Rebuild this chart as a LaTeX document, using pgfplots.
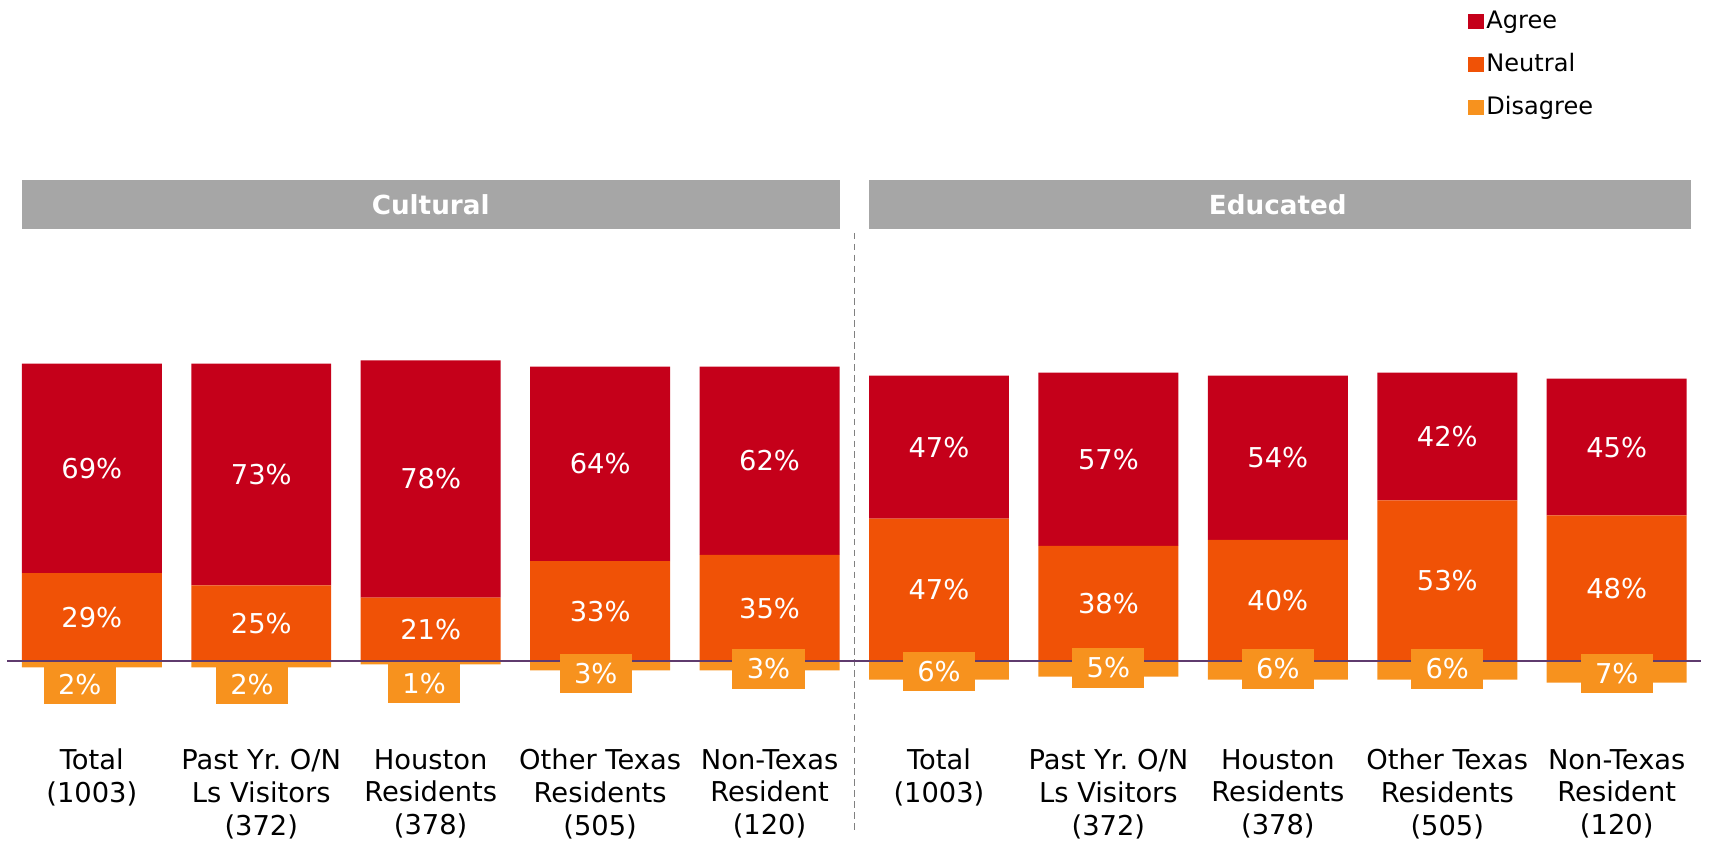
\documentclass[border=0pt]{standalone}
\usepackage{fontspec}
\setmainfont{DejaVu Sans}
\usepackage{pgfplots}
\pgfplotsset{compat=1.18}
\frenchspacing
\definecolor{agree}{HTML}{C5001A}
\definecolor{neutral}{HTML}{F05206}
\definecolor{disagree}{HTML}{F7921E}
\definecolor{hdr}{HTML}{A6A6A6}
\definecolor{basecol}{HTML}{5F3B6E}
\pgfplotsset{
  myaxis/.style={scale only axis, width=784pt, height=384.5pt,
    xmin=-0.541935, xmax=9.574194, ymin=-58.99, ymax=217.63,
    axis line style={draw=none}, xtick=\empty, ytick=\empty,
    major tick length=0pt, clip=false, at={(0,0)}, anchor=south west},
  sq/.style={legend image code/.code={\fill[##1] (0pt,-3.5pt) rectangle (7pt,3.5pt);}},
  lbl/.style={only marks, mark=*, mark size=0pt, draw=none, mark options={draw=none,fill=none},
    nodes near coords, point meta=explicit symbolic},
}
\begin{document}
\begin{tikzpicture}
\useasboundingbox (0,0) rectangle (784pt,384.5pt);
% disagree bars (below zero)
\begin{axis}[myaxis, ybar, bar width=0.826, bar shift=0pt]
\addplot[fill=disagree, draw=none] coordinates {(0,-2)(1,-2)(2,-1)(3,-3)(4,-3)(5,-6)(6,-5)(7,-6)(8,-6)(9,-7)};
\end{axis}
% neutral and agree bars, stacked from zero
\begin{axis}[myaxis, ybar stacked, bar width=0.826]
\addplot[fill=neutral, draw=none] coordinates {(0,29)(1,25)(2,21)(3,33)(4,35)(5,47)(6,38)(7,40)(8,53)(9,48)};
\addplot[fill=agree, draw=none] coordinates {(0,69)(1,73)(2,78)(3,64)(4,62)(5,47)(6,57)(7,54)(8,42)(9,45)};
\end{axis}
% decorations, labels, legend
\begin{axis}[myaxis, xtick={0,...,9},
  xticklabels={{Total\\(1003)},{Past Yr. O/N\\Ls Visitors\\(372)},{Houston\\Residents\\(378)},{Other Texas\\Residents\\(505)},{Non-Texas\\Resident\\(120)},
               {Total\\(1003)},{Past Yr. O/N\\Ls Visitors\\(372)},{Houston\\Residents\\(378)},{Other Texas\\Residents\\(505)},{Non-Texas\\Resident\\(120)}},
  xticklabel style={align=center, anchor=north, inner sep=0pt, yshift=42pt, font=\fontsize{12.5}{15}\selectfont},
  legend style={at={(axis cs:8.1226,215.0)}, anchor=north west, draw=none, fill=none,
    inner sep=0pt, row sep=7.5pt, font=\fontsize{11}{13}\selectfont,
    nodes={inner sep=1.2pt}},
  legend cell align=left]
\addlegendimage{sq, fill=agree, draw=none}
\addlegendentry{Agree}
\addlegendimage{sq, fill=neutral, draw=none}
\addlegendentry{Neutral}
\addlegendimage{sq, fill=disagree, draw=none}
\addlegendentry{Disagree}
\fill[hdr] (axis cs:-0.4129,158.3) rectangle (axis cs:4.4129,142.4);
\fill[hdr] (axis cs:4.5871,158.3) rectangle (axis cs:9.4387,142.4);
\node[text=white, font=\bfseries\fontsize{12}{14}\selectfont] at (axis cs:2,150.35) {Cultural};
\node[text=white, font=\bfseries\fontsize{12}{14}\selectfont] at (axis cs:7,150.35) {Educated};
\draw[gray, line width=0.6pt, dash pattern=on 3pt off 2pt] (axis cs:4.5,141.0) -- (axis cs:4.5,-55.8);
\addplot[color=basecol, line width=0.9pt, forget plot] coordinates {(-0.5,0)(9.5,0)};
% neutral labels
\addplot[lbl, forget plot,
  every node near coord/.append style={anchor=center, text=white, font=\fontsize{12.5}{14}\selectfont}]
  coordinates {(0,14.5)[29\%] (1,12.5)[25\%] (2,10.5)[21\%] (3,16.5)[33\%] (4,17.5)[35\%]
               (5,23.5)[47\%] (6,19)[38\%] (7,20)[40\%] (8,26.5)[53\%] (9,24)[48\%]};
% agree labels
\addplot[lbl, forget plot,
  every node near coord/.append style={anchor=center, text=white, font=\fontsize{12.5}{14}\selectfont}]
  coordinates {(0,63.5)[69\%] (1,61.5)[73\%] (2,60)[78\%] (3,65)[64\%] (4,66)[62\%]
               (5,70.5)[47\%] (6,66.5)[57\%] (7,67)[54\%] (8,74)[42\%] (9,70.5)[45\%]};
% disagree labels
\addplot[lbl, forget plot,
  every node near coord/.append style={anchor=center, text=white, fill=disagree, inner sep=0pt,
    minimum width=33pt, minimum height=18pt, font=\fontsize{12.5}{14}\selectfont}]
  coordinates {(-0.071,-7.55)[2\%] (0.945,-7.55)[2\%] (1.961,-7.2)[1\%] (2.974,-3.96)[3\%] (3.994,-2.52)[3\%]
               (5,-3.24)[6\%] (6,-2.16)[5\%] (7,-2.52)[6\%] (8,-2.52)[6\%] (9,-3.96)[7\%]};
\end{axis}
\end{tikzpicture}
\end{document}
